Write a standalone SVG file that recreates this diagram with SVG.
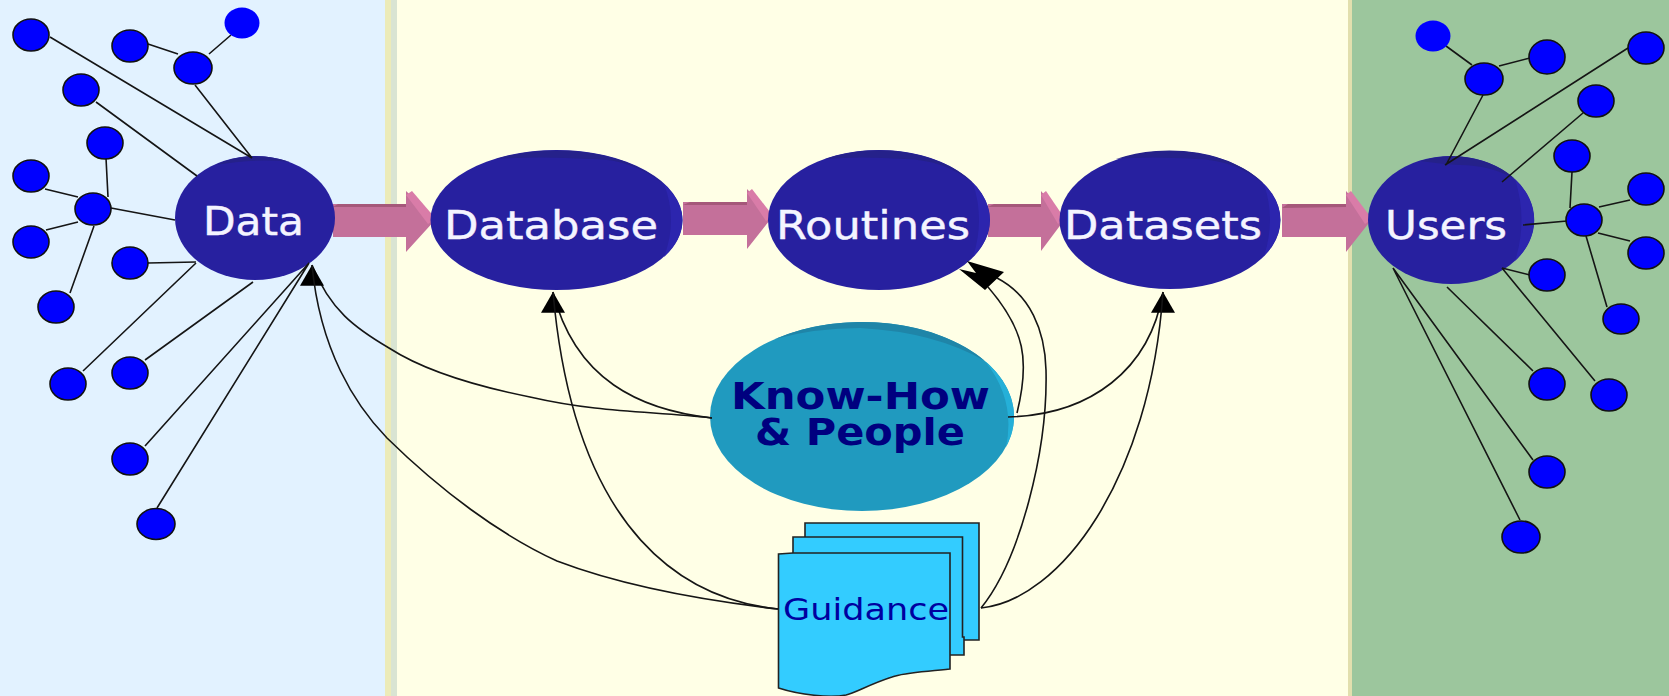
<svg xmlns="http://www.w3.org/2000/svg" width="1669" height="696" viewBox="0 0 1669 696">
<style>
.dot{fill:#0000ff;stroke:#111;stroke-width:1.6}
.ln{fill:none;stroke:#151515;stroke-width:1.6}
.bigm{fill:#27209f}.bigd{fill:#25218a}.bigl{fill:#2c25ae}
.lbl{font-family:"DejaVu Sans",Verdana,sans-serif;font-size:39px;fill:#f4f4ff;stroke:#f4f4ff;stroke-width:.4}
.kh{font-family:"DejaVu Sans",Verdana,sans-serif;font-weight:bold;font-size:38px;fill:#00007f}
.gd{font-family:"DejaVu Sans",Verdana,sans-serif;font-size:30px;fill:#0000a0}
.page{fill:#33ccff;stroke:#222;stroke-width:1.6}
.b{fill:#c4709a}.bd{fill:#a5587a}.bl{fill:#d97ca8}
</style>
<defs>
<marker id="up" markerUnits="userSpaceOnUse" markerWidth="24" markerHeight="22" refX="11" refY="0" viewBox="0 0 22 20" orient="0"><polygon points="11,0 22,19 0,19" fill="#000"/></marker>
</defs>
<g id="panels">
<rect x="0" y="0" width="385" height="696" fill="#e2f2ff"/>
<rect x="385" y="0" width="6" height="696" fill="#ecebb8"/>
<rect x="391" y="0" width="6" height="696" fill="#d9e4d2"/>
<rect x="397" y="0" width="951" height="696" fill="#ffffe6"/>
<rect x="1348" y="0" width="4" height="696" fill="#e2dfae"/>
<rect x="1352" y="0" width="317" height="696" fill="#9cc69d"/>
</g>
<g id="flow-arrows">
<g id="a1"><polygon class="b" points="333,204 406,204 406,191 436,219 406,252 406,237 333,237"/><polygon class="bd" points="333,207 338,204 406,204 406,207"/><polygon class="bl" points="406,195 412,191 436,219 428,224"/></g>
<g id="a2"><polygon class="b" points="683,202 747,202 747,189 773,216 747,249 747,235 683,235"/><polygon class="bd" points="683,205 690,202 747,202 747,205"/><polygon class="bl" points="747,193 752,189 773,216 766,221"/></g>
<g id="a3"><polygon class="b" points="988,204 1041,204 1041,191 1065,219 1041,251 1041,237 988,237"/><polygon class="bd" points="988,207 994,204 1041,204 1041,207"/><polygon class="bl" points="1041,195 1046,191 1065,219 1058,224"/></g>
<g id="a4"><polygon class="b" points="1282,204 1346,204 1346,191 1372,219 1346,252 1346,237 1282,237"/><polygon class="bd" points="1282,208 1288,204 1346,204 1346,207"/><polygon class="bl" points="1346,195 1351,191 1372,219 1365,224"/></g>
</g>
<g id="node-data"><ellipse class="bigm" cx="255" cy="218" rx="80" ry="62"/><path class="bigd" d="M215,165A80,62 0 0 1 290,162Q255,158 215,165Z"/><text class="lbl" x="203" y="235" textLength="101" lengthAdjust="spacingAndGlyphs">Data</text></g>
<g id="node-database"><ellipse class="bigm" cx="556.5" cy="220" rx="126" ry="70"/><path class="bigl" d="M664,184A126,70 0 0 1 664,257Q678,220 664,184Z"/><path class="bigd" d="M496,159A126,70 0 0 1 664,184Q630,158 590,159Q540,156 496,159Z"/><text class="lbl" x="444" y="239" textLength="214" lengthAdjust="spacingAndGlyphs">Database</text></g>
<g id="node-routines"><ellipse class="bigm" cx="879" cy="220" rx="111" ry="70"/><path class="bigl" d="M973,183A111,70 0 0 1 973,257Q985,220 973,183Z"/><path class="bigd" d="M825,159A111,70 0 0 1 973,183Q945,160 905,159Q860,156 825,159Z"/><text class="lbl" x="776" y="239" textLength="194" lengthAdjust="spacingAndGlyphs">Routines</text></g>
<g id="node-datasets"><ellipse class="bigm" cx="1170" cy="220" rx="110.5" ry="69"/><path class="bigl" d="M1264,184A110.5,69 0 0 1 1264,256Q1276,220 1264,184Z"/><path class="bigd" d="M1116,159A110.5,69 0 0 1 1264,184Q1236,160 1196,159Q1150,156 1116,159Z"/><text class="lbl" x="1064" y="239" textLength="198" lengthAdjust="spacingAndGlyphs">Datasets</text></g>
<g id="node-users"><ellipse class="bigm" cx="1451" cy="220" rx="83" ry="64"/><path class="bigl" d="M1515,179A83,64 0 0 1 1515,261Q1528,220 1515,179Z"/><path class="bigd" d="M1420,161A83,64 0 0 1 1515,179Q1490,165 1460,165Q1440,164 1420,161Z"/><text class="lbl" x="1385" y="239" textLength="122" lengthAdjust="spacingAndGlyphs">Users</text></g>
<g id="node-knowhow"><ellipse cx="862" cy="416.5" rx="152" ry="94.5" fill="#209abf"/><path d="M775,339A152,94.5 0 0 1 985,361Q935,332 860,328Q815,328 775,339Z" fill="#1f85a8"/><path d="M985,361A152,94.5 0 0 1 1006,447Q1016,400 985,361Z" fill="#25b0d8"/><text class="kh"><tspan x="731" y="409" textLength="259" lengthAdjust="spacingAndGlyphs">Know-How</tspan><tspan x="755" y="445" textLength="210" lengthAdjust="spacingAndGlyphs">&amp; People</tspan></text></g>
<g id="node-guidance"><polygon class="page" points="805,523 979,523 979,640 964,640 805,640"/><polygon class="page" points="793,537 962.5,537 962.5,637 964,637 964,655 950,655 793,655"/><path class="page" d="M778.5,554 L793,553 L950,553 L950,669 C925,672 905,672 892,677 C870,684 855,693 846,695 C830,698 800,695 778.5,688 Z"/><text class="gd" x="783" y="620" textLength="166" lengthAdjust="spacingAndGlyphs">Guidance</text></g>
<g id="connectors">
<path class="ln" d="M50,37L252,158M195,85L252,158M148,44L178,54M231,35L209,54M96,102L197,176M106,158L108,197M45,189L78,197M46,230L78,222M111,208L175,220M94,226L70,293M148,263L196,262M83,371L196,263M145,360L253,282M145,446L309,263M157,508L309,263"/>
<path class="ln" d="M1446,46L1472,65M1499,66L1530,58M1483,95L1446,165M1628,48L1445,165M1583,113L1502,182M1572,172L1570,208M1630,200L1599,207M1630,241L1598,233M1586,236L1607,307M1523,225L1567,221M1502,268L1530,275M1502,268L1595,381M1447,287L1533,371M1393,268L1533,460M1393,268L1520,520"/>
<path class="ln" d="M712,418C650,411 600,413 530,397C470,385 420,368 389,348C355,328 330,310 312,265" marker-end="url(#up)"/>
<path class="ln" d="M778,609C700,600 620,585 557,561C500,535 440,490 387,438C355,405 320,350 312,265"/>
<path class="ln" d="M712,418C640,410 575,380 553,292" marker-end="url(#up)"/>
<path class="ln" d="M778,609C690,600 575,540 553,292"/>
<path class="ln" d="M1017,413C1030,360 1025,330 988,287"/>
<path class="ln" d="M981,608C1020,560 1048,450 1046,370C1045,330 1030,295 997,278"/>
<polygon points="967,261 1004,272 985,290 959,269 976,273" fill="#000"/>
<path class="ln" d="M1008,417C1090,415 1150,370 1163,292" marker-end="url(#up)"/>
<path class="ln" d="M981,608C1060,600 1150,480 1163,292"/>
</g>
<g id="data-dots">
<ellipse class="dot" cx="31" cy="35" rx="18" ry="16"/><ellipse class="dot" cx="130" cy="46" rx="18" ry="16"/><ellipse class="dot" cx="193" cy="68" rx="19" ry="16"/><ellipse cx="242" cy="23" rx="17.5" ry="15.5" fill="#0000ff"/><ellipse class="dot" cx="81" cy="90" rx="18" ry="16"/><ellipse class="dot" cx="105" cy="143" rx="18" ry="16"/><ellipse class="dot" cx="31" cy="176" rx="18" ry="16"/><ellipse class="dot" cx="93" cy="209" rx="18" ry="16"/><ellipse class="dot" cx="31" cy="242" rx="18" ry="16"/><ellipse class="dot" cx="130" cy="263" rx="18" ry="16"/><ellipse class="dot" cx="56" cy="307" rx="18" ry="16"/><ellipse class="dot" cx="68" cy="384" rx="18" ry="16"/><ellipse class="dot" cx="130" cy="373" rx="18" ry="16"/><ellipse class="dot" cx="130" cy="459" rx="18" ry="16"/><ellipse class="dot" cx="156" cy="524" rx="19" ry="15.5"/>
</g>
<g id="user-dots">
<ellipse cx="1433" cy="36" rx="17.5" ry="15.5" fill="#0000ff"/><ellipse class="dot" cx="1484" cy="79" rx="19" ry="16"/><ellipse class="dot" cx="1547" cy="57" rx="18" ry="17"/><ellipse class="dot" cx="1646" cy="48" rx="18" ry="16"/><ellipse class="dot" cx="1596" cy="101" rx="18" ry="16"/><ellipse class="dot" cx="1572" cy="156" rx="18" ry="16"/><ellipse class="dot" cx="1646" cy="189" rx="18" ry="16"/><ellipse class="dot" cx="1584" cy="220" rx="18" ry="16"/><ellipse class="dot" cx="1646" cy="253" rx="18" ry="16"/><ellipse class="dot" cx="1547" cy="275" rx="18" ry="16"/><ellipse class="dot" cx="1621" cy="319" rx="18" ry="15"/><ellipse class="dot" cx="1547" cy="384" rx="18" ry="16"/><ellipse class="dot" cx="1609" cy="395" rx="18" ry="16"/><ellipse class="dot" cx="1547" cy="472" rx="18" ry="16"/><ellipse class="dot" cx="1521" cy="537" rx="19" ry="16"/>
</g>
</svg>
